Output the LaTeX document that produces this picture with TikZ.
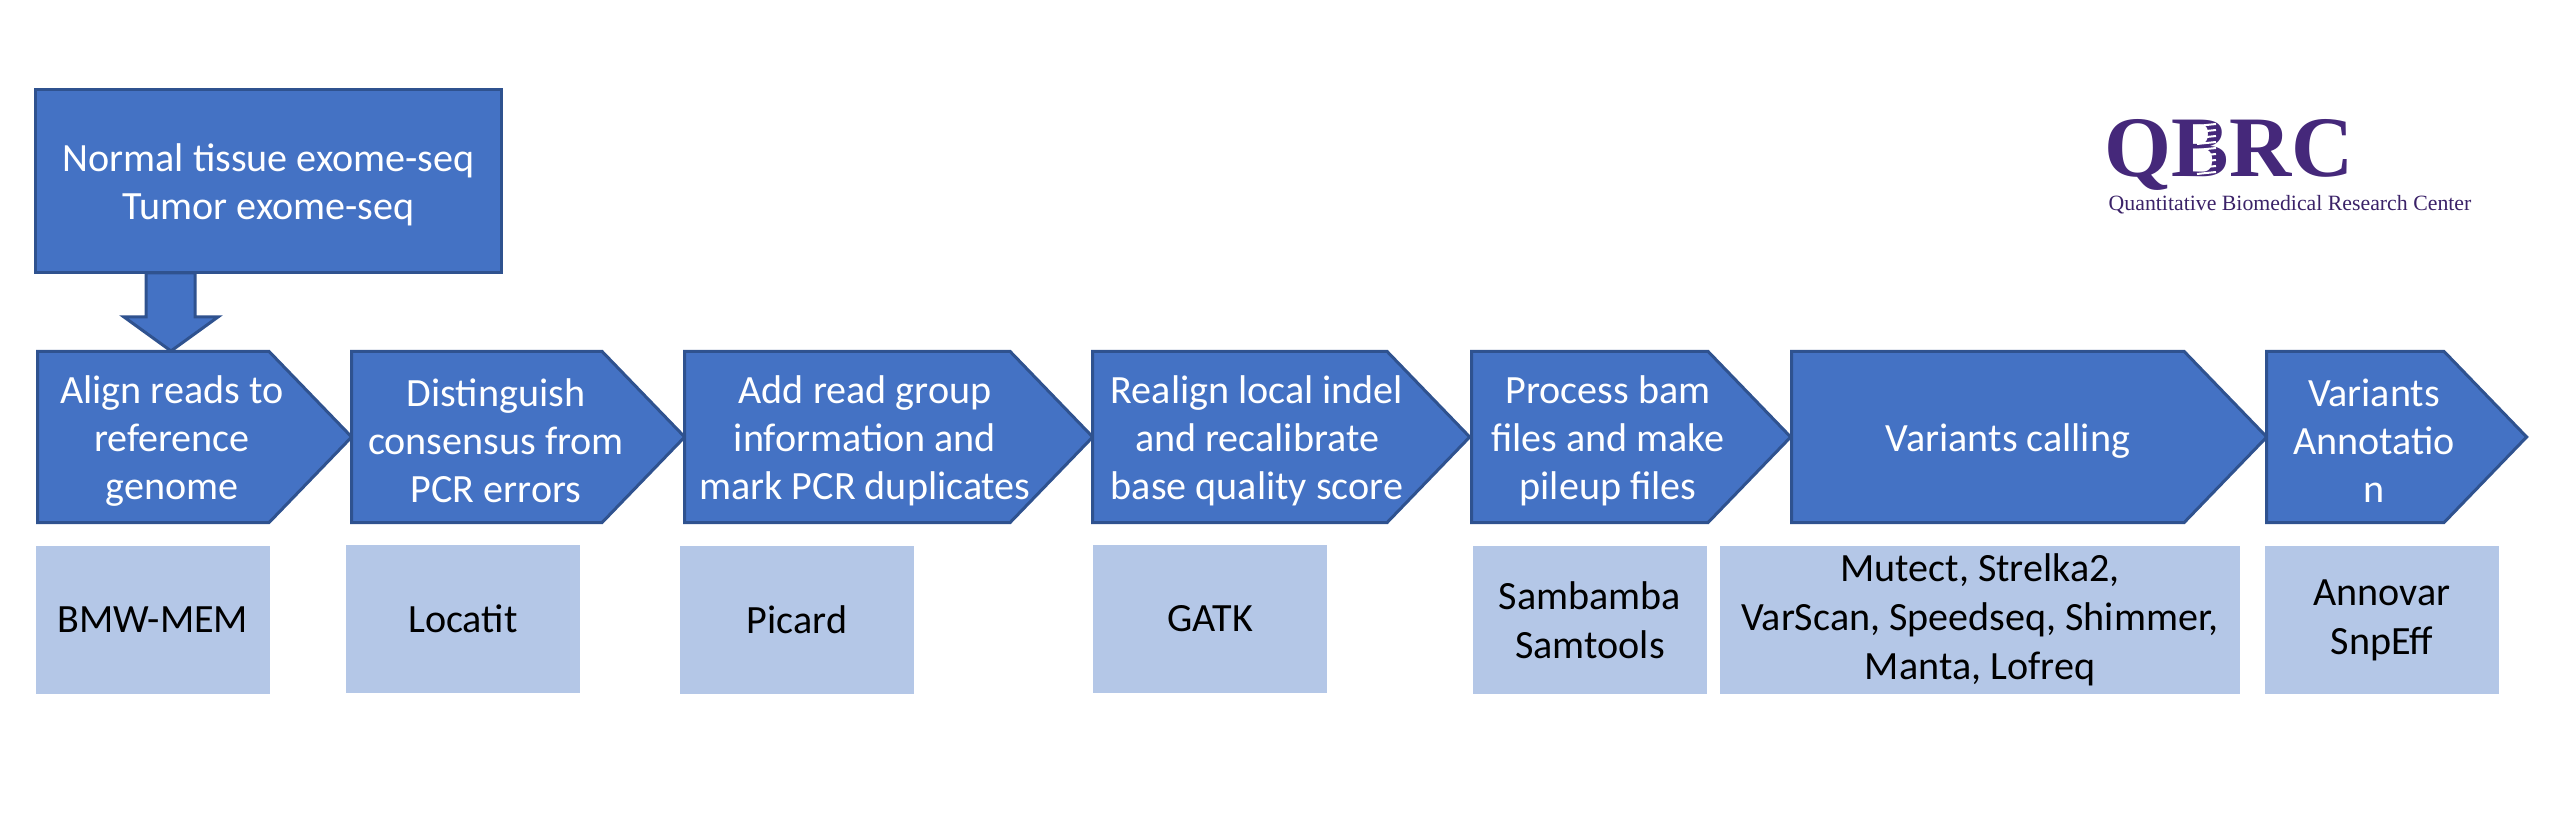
\documentclass[tikz,border=0pt]{standalone}
\usepackage{fontspec}
\setmainfont{Carlito}
\newfontfamily\logofont{Liberation Serif}
\usetikzlibrary{shapes.symbols}
\definecolor{stepblue}{HTML}{4472C4}
\definecolor{stepedge}{HTML}{2F528F}
\definecolor{toolblue}{HTML}{B4C7E7}
\definecolor{logopurple}{HTML}{45287A}
\begin{document}
\begin{tikzpicture}[
        x=0.01cm,
        y=-0.01cm,
        stepbox/.style={signal, signal to=east, signal pointer angle=92, draw=stepedge, line width=0.03cm, fill=stepblue, minimum height=1.71cm, inner sep=0pt, anchor=west},
        steptext/.style={text=white, align=center, inner sep=0pt, font=\fontsize{11.4}{13.7}\selectfont},
        toolbox/.style={rectangle, fill=toolblue, text=black, align=center, minimum height=1.48cm, inner sep=0pt, font=\fontsize{11.4}{13.9}\selectfont},
        inputbox/.style={rectangle, draw=stepedge, line width=0.03cm, fill=stepblue, minimum width=4.65cm, minimum height=1.83cm},
        downarrow/.style={draw=stepedge, line width=0.03cm, fill=stepblue, line join=miter}
    ]
        \useasboundingbox (0,0) rectangle (2550,825);

        % Input
        \node[inputbox] (input) at (268.5,181) {};
        \node[steptext] (inputtext) at (268.5,185) {Normal tissue exome-seq\\Tumor exome-seq};

        % Steps
        \node[stepbox, minimum width=3.14cm] (align) at (36,437) {};
        \node[steptext] (aligntext) at (172,441) {Align reads to\\reference\\genome};
        \node[stepbox, minimum width=3.33cm] (consensus) at (350,437) {};
        \node[steptext] (consensustext) at (496,441) {Distinguish\\consensus from\\PCR errors};
        \node[stepbox, minimum width=4.08cm] (duplicates) at (683,437) {};
        \node[steptext] (duplicatestext) at (865,441) {Add read group\\information and\\mark PCR duplicates};
        \node[stepbox, minimum width=3.77cm] (realign) at (1091,437) {};
        \node[steptext] (realigntext) at (1257,441) {Realign local indel\\and recalibrate\\base quality score};
        \node[stepbox, minimum width=3.19cm] (pileup) at (1470,437) {};
        \node[steptext] (pileuptext) at (1608,441) {Process bam\\files and make\\pileup files};
        \node[stepbox, minimum width=4.75cm] (calling) at (1790,437) {};
        \node[steptext] (callingtext) at (2008,441) {Variants calling};
        \node[stepbox, minimum width=2.60cm] (annotation) at (2265,437) {};
        \node[steptext] (annotationtext) at (2374,441) {Variants\\Annotatio\\n};

        % Tools
        \node[toolbox, minimum width=2.34cm] (bwa) at (153,620) {BMW-MEM};
        \node[toolbox, minimum width=2.34cm] (locatit) at (463,619) {Locatit};
        \node[toolbox, minimum width=2.34cm] (picard) at (797,620) {Picard};
        \node[toolbox, minimum width=2.34cm] (gatk) at (1210,619) {GATK};
        \node[toolbox, minimum width=2.34cm] (sambamba) at (1590,620) {Sambamba\\Samtools};
        \node[toolbox, minimum width=5.19cm] (callers) at (1980,620) {Mutect, Strelka2,\\VarScan, Speedseq, Shimmer,\\Manta, Lofreq};
        \node[toolbox, minimum width=2.34cm] (annovar) at (2382,620) {Annovar\\SnpEff};

        % Arrow from input to first step
        \coordinate (tip) at (171,351);
        \draw[downarrow] (146,273) -- (146,317) -- (124,317) -- (tip) -- (218,317) -- (195,317) -- (195,273) -- cycle;

        % Logo
        \node[text=logopurple, inner sep=0pt, font=\logofont\bfseries\fontsize{24.5}{26}\selectfont] (logo) at (2229,155) {QBRC};
        \node[text=logopurple!85!black, inner sep=0pt, font=\logofont\fontsize{6.2}{7}\selectfont] (logotext) at (2290,205) {Quantitative Biomedical Research Center};
        \foreach \ypos in {126,132,...,174} {
            \draw[white, line width=0.02cm] (2197,\ypos) -- (2216,{\ypos-2});
        }
    \end{tikzpicture}
\end{document}
